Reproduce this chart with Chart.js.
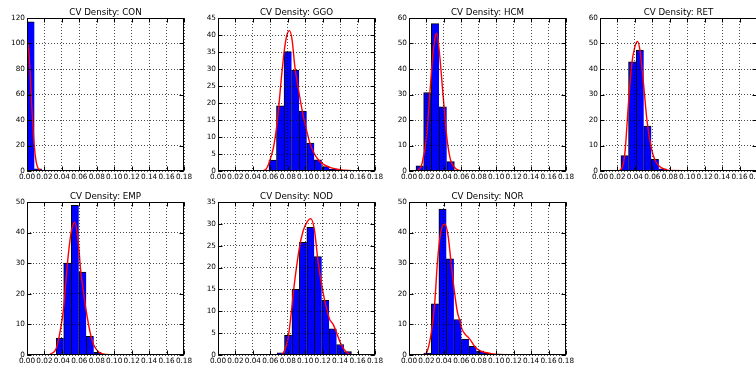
<!DOCTYPE html>
<html><head><meta charset="utf-8">
<script src="https://cdn.jsdelivr.net/npm/chart.js@4/dist/chart.umd.min.js"></script>
<style>
html,body{margin:0;padding:0;background:#fff;width:756px;height:367px;overflow:hidden;position:relative}
canvas{position:absolute}
</style></head><body>
<script>
// ---- data ----
const panelNames = ['CON','GGO','HCM','RET','EMP','NOD','NOR'];
const xTickStep = 0.02;
const xMax = 0.18;

const conEdges = [0, 0.0085, 0.017, 0.0255, 0.034];
const conCounts = [117, 1.8, 0.3, 0.1];
const conKdeX = [0, 0.0023, 0.0038, 0.0053, 0.0069, 0.0084, 0.0107, 0.013, 0.0165, 0.02, 0.03, 0.18];
const conKdeY = [105, 92, 74, 53, 34, 19, 6.5, 1.9, 0.5, 0.1, 0, 0];
const conYMax = 120, conYStep = 20;

const ggoEdges = [0.0584, 0.06705, 0.0757, 0.08435, 0.093, 0.10165, 0.1103, 0.11895, 0.1276, 0.13625, 0.1449];
const ggoCounts = [3.2, 19.2, 35.1, 29.7, 17.6, 8.2, 3.3, 1.3, 0.6, 0.2];
const ggoKdeX = [0, 0.05, 0.055, 0.0584, 0.0634, 0.0675, 0.0697, 0.0729, 0.0763, 0.079, 0.082, 0.085, 0.088, 0.0933, 0.0975, 0.102, 0.105, 0.11, 0.115, 0.12, 0.13, 0.14, 0.15, 0.16, 0.18];
const ggoKdeY = [0, 0, 0.5, 2.3, 6.7, 13.5, 19, 28, 36, 40, 41.3, 38.5, 31, 22.4, 16.5, 11.5, 8.5, 5.3, 3.3, 2.1, 0.9, 0.4, 0.15, 0.05, 0];
const ggoYMax = 45, ggoYStep = 5;

const hcmEdges = [0.008, 0.0168, 0.0256, 0.0344, 0.0432, 0.052];
const hcmCounts = [2, 30.8, 57.8, 25.2, 3.7];
const hcmKdeX = [0, 0.008, 0.012, 0.015, 0.02, 0.024, 0.027, 0.03, 0.0317, 0.035, 0.038, 0.04, 0.0431, 0.045, 0.0477, 0.052, 0.056, 0.06, 0.18];
const hcmKdeY = [0, 0, 0.8, 3, 13, 30.8, 44, 52.5, 54, 46, 34, 26, 14, 9, 4.3, 1.5, 0.4, 0.1, 0];
const hcmYMax = 60, hcmYStep = 10;

const retEdges = [0.024, 0.0327, 0.0414, 0.0501, 0.0588, 0.0675, 0.0762];
const retCounts = [6.0, 42.8, 47.4, 17.6, 4.6, 0.9];
const retKdeX = [0, 0.02, 0.025, 0.0287, 0.0325, 0.0363, 0.040, 0.0432, 0.046, 0.050, 0.054, 0.0589, 0.063, 0.0673, 0.075, 0.08, 0.18];
const retKdeY = [0, 0, 1, 7.6, 26, 41.6, 48.8, 50.8, 46.9, 33.8, 19.4, 8.9, 4.3, 2.1, 0.6, 0.2, 0];
const retYMax = 60, retYStep = 10;

const empEdges = [0.0335, 0.0421, 0.0507, 0.0593, 0.0679, 0.0765, 0.0851];
const empCounts = [5.5, 30, 48.9, 27.1, 6.1, 0.9];
const empKdeX = [0, 0.024, 0.028, 0.0336, 0.0386, 0.042, 0.0462, 0.0508, 0.0547, 0.0575, 0.06, 0.0614, 0.065, 0.068, 0.073, 0.0765, 0.0826, 0.09, 0.1, 0.18];
const empKdeY = [0, 0, 0.5, 2.2, 8.7, 15.3, 29.5, 40.4, 43.4, 40, 33, 28, 20, 14.2, 6.6, 3.3, 0.9, 0.2, 0.05, 0];
const empYMax = 50, empYStep = 10;

const nodEdges = [0.0677, 0.07623, 0.08476, 0.09329, 0.10182, 0.11035, 0.11888, 0.12741, 0.13594, 0.14447, 0.153];
const nodCounts = [0.5, 4.5, 15.0, 25.8, 29.2, 22.5, 12.5, 6.0, 2.4, 0.8];
const nodKdeX = [0, 0.07, 0.0727, 0.0765, 0.0803, 0.0845, 0.0868, 0.0933, 0.0975, 0.102, 0.1063, 0.1105, 0.1147, 0.1193, 0.1223, 0.1277, 0.132, 0.1361, 0.1403, 0.1445, 0.149, 0.153, 0.16, 0.18];
const nodKdeY = [0, 0, 0.1, 1.1, 3.8, 10.5, 15, 24.5, 28.3, 30.4, 31.2, 28.7, 21.4, 15.5, 12.5, 8.3, 7, 5, 2.8, 1.3, 0.4, 0.1, 0, 0];
const nodYMax = 35, nodYStep = 5;

const norEdges = [0.017, 0.02562, 0.03424, 0.04286, 0.05148, 0.0601, 0.06872, 0.07734, 0.08596, 0.09458, 0.1032, 0.11182];
const norCounts = [0.65, 16.7, 47.7, 31.4, 11.6, 5.2, 2.8, 1.3, 0.6, 0.3, 0.15];
const norKdeX = [0, 0.0169, 0.021, 0.0257, 0.0295, 0.0325, 0.0363, 0.041, 0.0448, 0.0478, 0.0516, 0.0554, 0.0585, 0.0604, 0.065, 0.0688, 0.0734, 0.0772, 0.0822, 0.0879, 0.0956, 0.103, 0.12, 0.18];
const norKdeY = [0, 0, 1.3, 7.6, 17, 30, 40, 42.8, 39, 31.4, 21.8, 14.2, 11, 8.7, 6.6, 5.5, 3.6, 2.2, 1.3, 0.8, 0.35, 0.2, 0.05, 0];
const norYMax = 50, norYStep = 10;

// ---- layout ----
const AX_LEFT = [27, 218, 409, 600];
const AX_TOP = [18, 202];
const PLOT_W = 157, PLOT_H = 153;
const PAD_SIDE = 30, TITLE_H = 14, XAX_H = 14;
const FONT = "'DejaVu Sans', 'Liberation Sans', sans-serif";

const framePlugin = {
  id: 'frame',
  afterDraw(chart) {
    const ctx = chart.ctx, a = chart.chartArea;
    const xs = chart.scales.x, ys = chart.scales.y;
    const L = Math.round(a.left) + 0.5, R = Math.round(a.right) - 0.5;
    const T = Math.round(a.top) + 0.5, B = Math.round(a.bottom) - 0.5;
    ctx.save();
    ctx.strokeStyle = '#000';
    ctx.lineWidth = 1;
    ctx.beginPath();
    xs.ticks.forEach(t => {
      const p = Math.round(xs.getPixelForValue(t.value)) + 0.5;
      ctx.moveTo(p, B); ctx.lineTo(p, B - 4);
      ctx.moveTo(p, T); ctx.lineTo(p, T + 4);
    });
    ys.ticks.forEach(t => {
      const p = Math.round(ys.getPixelForValue(t.value)) + 0.5;
      ctx.moveTo(L, p); ctx.lineTo(L + 4, p);
      ctx.moveTo(R, p); ctx.lineTo(R - 4, p);
    });
    ctx.stroke();
    ctx.strokeRect(L, T, R - L, B - T);
    ctx.restore();
  }
};

function makePanel(idx, name, edges, counts, kdeX, kdeY, yMax, yStep) {
  const col = idx % 4, row = Math.floor(idx / 4);
  const c = document.createElement('canvas');
  c.width = PAD_SIDE * 2 + PLOT_W;
  c.height = TITLE_H + PLOT_H + XAX_H;
  c.style.left = (AX_LEFT[col] - PAD_SIDE) + 'px';
  c.style.top = (AX_TOP[row] - TITLE_H) + 'px';
  document.body.appendChild(c);
  const n = counts.length;
  const bars = counts.map((v, i) => ({ x: (edges[i] + edges[i + 1]) / 2, y: v }));
  const kde = kdeX.map((x, i) => ({ x: x, y: kdeY[i] }));
  new Chart(c, {
    type: 'bar',
    data: {
      datasets: [
        {
          type: 'bar', data: bars, order: 2,
          backgroundColor: '#0000ff', borderColor: '#000000',
          borderWidth: (ctx) => ({ top: 1, left: 1, bottom: 0, right: ctx.dataIndex === n - 1 ? 1 : 0 }),
          borderSkipped: 'start',
          barPercentage: 1, categoryPercentage: 1
        },
        {
          type: 'line', data: kde, order: 1,
          borderColor: '#ff0000', borderWidth: 1.4, pointRadius: 0,
          cubicInterpolationMode: 'monotone', fill: false
        }
      ]
    },
    options: {
      responsive: false, animation: false, devicePixelRatio: 1,
      layout: { padding: { top: 4, right: PAD_SIDE, left: 0, bottom: 0 } },
      plugins: {
        legend: { display: false }, tooltip: { enabled: false },
        title: {
          display: true, text: 'CV Density: ' + name, fullSize: false, color: '#000',
          font: { family: FONT, size: 8.7, weight: 'normal', lineHeight: '10px' },
          padding: { top: 0, bottom: 0 }
        }
      },
      scales: {
        x: {
          type: 'linear', min: 0, max: xMax, offset: false,
          grid: { offset: false, color: 'rgba(0,0,0,0.7)', lineWidth: 1, drawTicks: false, z: 1 },
          border: { display: false, dash: [1, 2] },
          ticks: {
            stepSize: xTickStep, autoSkip: false, maxRotation: 0, minRotation: 0, padding: 2,
            color: '#000', font: { family: FONT, size: 7.3 },
            callback: (v) => Number(v).toFixed(2)
          },
          afterFit: (s) => { s.height = XAX_H; }
        },
        y: {
          type: 'linear', min: 0, max: yMax,
          grid: { color: 'rgba(0,0,0,0.7)', lineWidth: 1, drawTicks: false, z: 1 },
          border: { display: false, dash: [1, 2] },
          ticks: {
            stepSize: yStep, padding: 2, color: '#000', font: { family: FONT, size: 7.3 },
            callback: (v) => String(Math.round(v))
          },
          afterFit: (s) => { s.width = PAD_SIDE; }
        }
      }
    },
    plugins: [framePlugin]
  });
}

makePanel(0, panelNames[0], conEdges, conCounts, conKdeX, conKdeY, conYMax, conYStep);
makePanel(1, panelNames[1], ggoEdges, ggoCounts, ggoKdeX, ggoKdeY, ggoYMax, ggoYStep);
makePanel(2, panelNames[2], hcmEdges, hcmCounts, hcmKdeX, hcmKdeY, hcmYMax, hcmYStep);
makePanel(3, panelNames[3], retEdges, retCounts, retKdeX, retKdeY, retYMax, retYStep);
makePanel(4, panelNames[4], empEdges, empCounts, empKdeX, empKdeY, empYMax, empYStep);
makePanel(5, panelNames[5], nodEdges, nodCounts, nodKdeX, nodKdeY, nodYMax, nodYStep);
makePanel(6, panelNames[6], norEdges, norCounts, norKdeX, norKdeY, norYMax, norYStep);
</script>
</body></html>
